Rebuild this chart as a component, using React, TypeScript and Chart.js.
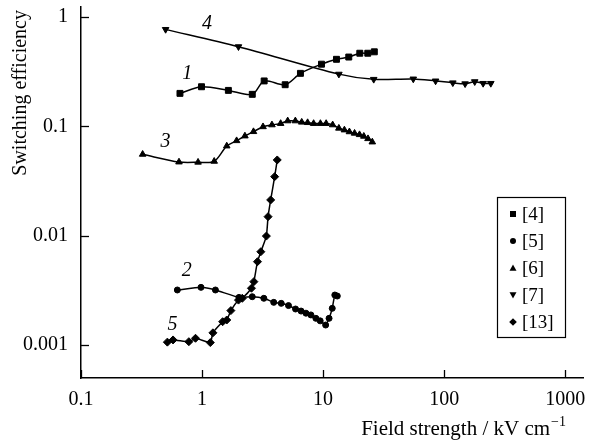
import React, { useEffect, useRef } from 'react';
import { Chart, registerables } from 'chart.js';
Chart.register(...registerables);

const xTicks = [0.1, 1, 10, 100, 1000];
const xTickLabels = ['0.1', '1', '10', '100', '1000'];
const yTicks = [0.001, 0.01, 0.1, 1];
const yTickLabels = ['0.001', '0.01', '0.1', '1'];

// Curve 1, ref [4], squares
const s1X = [0.657, 0.99, 1.65, 2.6, 3.26, 4.86, 6.5, 9.7, 12.9, 16.3, 20.1, 23.4, 26.5];
const s1Y = [0.2, 0.23, 0.213, 0.196, 0.26, 0.24, 0.305, 0.37, 0.41, 0.43, 0.466, 0.466, 0.48];

// Curve 2, ref [5], circles
const s2X = [0.625, 0.98, 1.29, 2.02, 2.6, 3.24, 3.91, 4.51, 5.18, 5.92, 6.58, 7.22, 7.93, 8.72, 9.46, 10.5, 11.2, 11.9, 12.5, 13.1];
const s2Y = [0.00318, 0.00336, 0.00318, 0.00272, 0.00276, 0.00267, 0.00245, 0.0024, 0.00229, 0.00213, 0.00204, 0.00195, 0.00188, 0.00175, 0.00166, 0.00152, 0.00175, 0.00216, 0.00286, 0.0028];

// Curve 3, ref [6], up triangles
const s3X = [0.323, 0.645, 0.927, 1.26, 1.6, 1.93, 2.26, 2.66, 3.19, 3.78, 4.46, 5.1, 5.9, 6.66, 7.45, 8.35, 9.5, 10.6, 12, 13.5, 15, 16.5, 18.2, 20, 21.7, 23.5, 25.5];
const s3Y = [0.0554, 0.0471, 0.0469, 0.0478, 0.066, 0.0738, 0.0815, 0.0893, 0.099, 0.103, 0.106, 0.112, 0.112, 0.109, 0.108, 0.106, 0.106, 0.106, 0.103, 0.096, 0.0925, 0.089, 0.0863, 0.0838, 0.081, 0.077, 0.0718];

// Curve 4, ref [7], down triangles
const s4X = [0.5, 2.0, 13.5, 26.2, 55.6, 85, 118, 149, 179, 210, 243];
const s4Y = [0.77, 0.535, 0.3, 0.269, 0.271, 0.26, 0.25, 0.245, 0.256, 0.247, 0.247];

// Curve 5, ref [13], diamonds
const s5X = [0.517, 0.576, 0.778, 0.883, 1.17, 1.23, 1.48, 1.6, 1.73, 2.0, 2.15, 2.56, 2.68, 2.87, 3.06, 3.4, 3.51, 3.69, 3.98, 4.18];
const s5Y = [0.00106, 0.00111, 0.00107, 0.00115, 0.00105, 0.00129, 0.00163, 0.00169, 0.00206, 0.00257, 0.00267, 0.0033, 0.00379, 0.00577, 0.00712, 0.0099, 0.0149, 0.0212, 0.0346, 0.0492];

const legendLabels = ['[4]', '[5]', '[6]', '[7]', '[13]'];
const curveNames = ['1', '2', '3', '4', '5'];
const curveLabelX = [0.755, 0.746, 0.5, 1.1, 0.569];
const curveLabelY = [0.305, 0.00478, 0.0723, 0.86, 0.00152];

const SERIF = '"Liberation Serif", "Times New Roman", serif';

function pts(xs: number[], ys: number[]) {
  return xs.map((x, i) => ({ x, y: ys[i] }));
}

function drawMarker(ctx: CanvasRenderingContext2D, kind: number, x: number, y: number) {
  ctx.beginPath();
  if (kind === 0) {
    ctx.rect(x - 3, y - 3, 6, 6);
  } else if (kind === 1) {
    ctx.arc(x, y, 3, 0, Math.PI * 2);
  } else if (kind === 2) {
    ctx.moveTo(x, y - 3.5);
    ctx.lineTo(x + 3.5, y + 2.8);
    ctx.lineTo(x - 3.5, y + 2.8);
    ctx.closePath();
  } else if (kind === 3) {
    ctx.moveTo(x, y + 3.5);
    ctx.lineTo(x + 3.5, y - 2.8);
    ctx.lineTo(x - 3.5, y - 2.8);
    ctx.closePath();
  } else {
    ctx.moveTo(x, y - 3.8);
    ctx.lineTo(x + 3.8, y);
    ctx.lineTo(x, y + 3.8);
    ctx.lineTo(x - 3.8, y);
    ctx.closePath();
  }
  ctx.fill();
}

const decor = {
  id: 'decor',
  afterDraw(chart: any) {
    const ctx: CanvasRenderingContext2D = chart.ctx;
    const xs = chart.scales.x;
    const ys = chart.scales.y;
    const area = chart.chartArea;
    ctx.save();
    ctx.strokeStyle = '#000';
    ctx.fillStyle = '#000';
    ctx.lineWidth = 1.3;
    // inward tick marks
    xTicks.forEach((v) => {
      const px = Math.round(xs.getPixelForValue(v)) + 0.5;
      ctx.beginPath();
      ctx.moveTo(px, area.bottom);
      ctx.lineTo(px, area.bottom - 8);
      ctx.stroke();
    });
    yTicks.forEach((v) => {
      const py = Math.round(ys.getPixelForValue(v)) + 0.5;
      ctx.beginPath();
      ctx.moveTo(area.left, py);
      ctx.lineTo(area.left + 8, py);
      ctx.stroke();
    });
    // tick labels
    ctx.font = `20px ${SERIF}`;
    ctx.textAlign = 'center';
    ctx.textBaseline = 'middle';
    xTicks.forEach((v, i) => {
      ctx.fillText(xTickLabels[i], xs.getPixelForValue(v), area.bottom + 22);
    });
    ctx.textAlign = 'right';
    yTicks.forEach((v, i) => {
      ctx.fillText(yTickLabels[i], area.left - 13, ys.getPixelForValue(v));
    });
    // x title
    const main = 'Field strength / kV cm';
    const sup = '\u22121';
    ctx.font = `21px ${SERIF}`;
    const w1 = ctx.measureText(main).width;
    ctx.font = `14px ${SERIF}`;
    const w2 = ctx.measureText(sup).width;
    const endX = 566;
    const startX = endX - w1 - w2 - 1;
    ctx.textAlign = 'left';
    ctx.textBaseline = 'alphabetic';
    ctx.font = `21px ${SERIF}`;
    ctx.fillText(main, startX, 435);
    ctx.font = `14px ${SERIF}`;
    ctx.fillText(sup, startX + w1 + 1, 426);
    // y title
    ctx.save();
    ctx.translate(21, 10);
    ctx.rotate(-Math.PI / 2);
    ctx.font = `20px ${SERIF}`;
    ctx.textAlign = 'right';
    ctx.textBaseline = 'middle';
    ctx.fillText('Switching efficiency', 0, 0);
    ctx.restore();
    // curve labels
    ctx.font = `italic 20px ${SERIF}`;
    ctx.textAlign = 'center';
    ctx.textBaseline = 'middle';
    curveNames.forEach((n, i) => {
      ctx.fillText(n, xs.getPixelForValue(curveLabelX[i]), ys.getPixelForValue(curveLabelY[i]));
    });
    // legend
    ctx.lineWidth = 1.2;
    ctx.strokeRect(497.5, 197.5, 68, 140);
    ctx.font = `19px ${SERIF}`;
    ctx.textAlign = 'left';
    ctx.textBaseline = 'middle';
    legendLabels.forEach((l, i) => {
      const y = 214 + i * 27;
      drawMarker(ctx, i, 513, y);
      ctx.fillText(l, 522, y + 1);
    });
    ctx.restore();
  },
};

export default function App() {
  const ref = useRef<HTMLCanvasElement>(null);
  useEffect(() => {
    const base = {
      borderColor: '#000',
      backgroundColor: '#000',
      pointBackgroundColor: '#000',
      pointBorderColor: '#000',
      pointBorderWidth: 1,
      borderWidth: 1.5,
      fill: false,
    };
    const chart = new Chart(ref.current!, {
      type: 'line',
      data: {
        datasets: [
          { ...base, label: legendLabels[0], data: pts(s1X, s1Y), pointStyle: 'rect', pointRadius: 4.2, tension: 0.3 },
          { ...base, label: legendLabels[1], data: pts(s2X, s2Y), pointStyle: 'circle', pointRadius: 3, tension: 0.15 },
          { ...base, label: legendLabels[2], data: pts(s3X, s3Y), pointStyle: 'triangle', pointRadius: 3.8, tension: 0.3 },
          { ...base, label: legendLabels[3], data: pts(s4X, s4Y), pointStyle: 'triangle', pointRotation: 180, pointRadius: 3.8, tension: 0.3 },
          { ...base, label: legendLabels[4], data: pts(s5X, s5Y), pointStyle: 'rectRot', pointRadius: 4, tension: 0.15 },
        ] as any,
      },
      options: {
        animation: false,
        responsive: true,
        maintainAspectRatio: false,
        layout: { padding: { top: 7, right: 0, left: 0, bottom: 0 } },
        plugins: { legend: { display: false }, tooltip: { enabled: false } },
        scales: {
          x: {
            type: 'logarithmic',
            min: 0.1,
            max: 1425,
            ticks: { display: false },
            grid: { display: false, drawTicks: false },
            border: { display: true, color: '#000', width: 1.5 },
            afterFit: (s: any) => { s.height = 63; },
          },
          y: {
            type: 'logarithmic',
            min: 0.000498,
            max: 1.234,
            ticks: { display: false },
            grid: { display: false, drawTicks: false },
            border: { display: true, color: '#000', width: 1.5 },
            afterFit: (s: any) => { s.width = 81; },
          },
        },
      } as any,
      plugins: [decor],
    });
    return () => chart.destroy();
  }, []);
  return (
    <div style={{ position: 'absolute', left: 0, top: 0, width: 589, height: 441, background: '#fff' }}>
      <canvas ref={ref} />
    </div>
  );
}
